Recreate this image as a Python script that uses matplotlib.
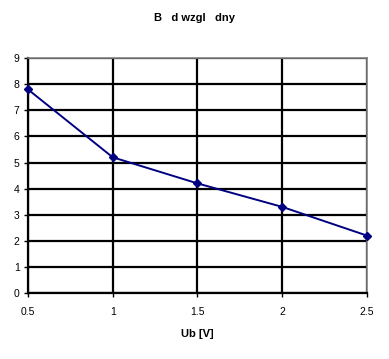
import matplotlib.pyplot as plt

plt.rcParams['font.family'] = ['Liberation Sans', 'DejaVu Sans']

ub = [0.5, 1.0, 1.5, 2.0, 2.5]
err = [7.8, 5.2, 4.2, 3.3, 2.2]
xticks = [0.5, 1, 1.5, 2, 2.5]
xticklabels = ["0.5", "1", "1.5", "2", "2.5"]

fig = plt.figure(figsize=(3.89, 3.59), dpi=100)
ax = fig.add_axes([0.072, 0.184, 0.871, 0.654])

ax.plot(ub, err, color="#000080", lw=1.4, marker="D", ms=4.5, zorder=3, clip_on=False)

ax.set_xlim(0.5, 2.5)
ax.set_ylim(0, 9)
ax.set_xticks(xticks)
ax.set_xticklabels(xticklabels)
ax.set_yticks(range(10))
ax.grid(True, color="black", lw=1.6)
ax.set_axisbelow(True)

for s in ["left", "bottom"]:
    ax.spines[s].set_color("black")
    ax.spines[s].set_linewidth(1.6)
for s in ["top", "right"]:
    ax.spines[s].set_color("#808080")
    ax.spines[s].set_linewidth(1.2)

ax.tick_params(axis="both", labelsize=7.5, length=3, width=1, color="black")
ax.tick_params(axis="x", pad=7)
ax.tick_params(axis="y", pad=3)
ax.set_xlabel("Ub [V]", fontsize=8, fontweight="bold", labelpad=9)
fig.suptitle("B   d wzgl   dny", x=0.5, y=0.965, fontsize=8, fontweight="bold")

fig.savefig("out.png", dpi=100)
